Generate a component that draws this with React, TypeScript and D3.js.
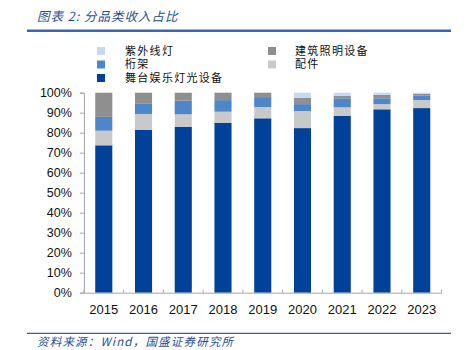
import React, { useEffect, useRef } from 'react';
import * as d3 from 'd3';

// Data (percent of revenue)
const years = ['2015', '2016', '2017', '2018', '2019', '2020', '2021', '2022', '2023'];
const stageLighting = [73.7, 81.5, 83.0, 85.0, 87.2, 82.3, 88.5, 91.7, 92.3]; // 舞台娱乐灯光设备
const accessories = [7.3, 7.8, 6.2, 5.5, 5.6, 8.5, 4.2, 2.6, 4.0];           // 配件
const truss = [6.9, 5.4, 6.8, 5.8, 5.0, 3.5, 4.5, 2.9, 2.2];                 // 桁架
const archLighting = [12.1, 5.3, 4.0, 3.7, 2.2, 3.2, 1.3, 1.8, 1.0];         // 建筑照明设备
const uvLamps = [0, 0, 0, 0, 0, 2.5, 1.5, 1.0, 0.5];                         // 紫外线灯
const yTicks = [0, 10, 20, 30, 40, 50, 60, 70, 80, 90, 100];

const series = [
  { key: 'stage', name: '舞台娱乐灯光设备', values: stageLighting, color: '#00419A' },
  { key: 'acc', name: '配件', values: accessories, color: '#C9C9C9' },
  { key: 'truss', name: '桁架', values: truss, color: '#4E86C8' },
  { key: 'arch', name: '建筑照明设备', values: archLighting, color: '#8F8F8F' },
  { key: 'uv', name: '紫外线灯', values: uvLamps, color: '#C6D9F0' },
];

const legendItems = [
  { key: 'uv', col: 0, row: 0 },
  { key: 'arch', col: 1, row: 0 },
  { key: 'truss', col: 0, row: 1 },
  { key: 'acc', col: 1, row: 1 },
  { key: 'stage', col: 0, row: 2 },
];

const App = () => {
  const ref = useRef<SVGSVGElement>(null);

  useEffect(() => {
    const svg = d3.select(ref.current);
    svg.selectAll('*').remove();

    const W = 468, H = 350;
    const margin = { top: 92.7, right: 26.4, bottom: 57.3, left: 83.9 };
    const width = W - margin.left - margin.right;
    const height = H - margin.top - margin.bottom;
    const blue = '#2E5FA8';
    const cjk = '"Noto Sans CJK SC", sans-serif';

    // Header
    svg.append('text')
      .attr('x', 37).attr('y', 21)
      .attr('fill', '#1F4E9A')
      .attr('font-family', cjk)
      .attr('font-style', 'italic')
      .attr('font-size', 12.5)
      .attr('letter-spacing', 1)
      .text('图表 2:  分品类收入占比');
    svg.append('line')
      .attr('x1', 27).attr('x2', 451).attr('y1', 30.7).attr('y2', 30.7)
      .attr('stroke', '#3A67B0').attr('stroke-width', 2.5);

    // Legend
    legendItems.forEach(it => {
      const s = series.find(d => d.key === it.key)!;
      const sx = it.col === 0 ? 97 : 268;
      const tx = it.col === 0 ? 125 : 295;
      const cy = 51 + it.row * 13.5;
      svg.append('rect')
        .attr('x', sx).attr('y', cy - 4).attr('width', 8).attr('height', 8)
        .attr('fill', s.color);
      svg.append('text')
        .attr('x', tx).attr('y', cy)
        .attr('dy', '0.36em')
        .attr('font-family', cjk)
        .attr('font-size', 11)
        .attr('letter-spacing', 1.3)
        .attr('fill', '#111')
        .text(s.name);
    });

    const g = svg.append('g').attr('transform', `translate(${margin.left},${margin.top})`);

    const x = d3.scaleBand().domain(years).range([0, width]).paddingInner(0.57).paddingOuter(0.285);
    const y = d3.scaleLinear().domain([0, 100]).range([height, 0]);

    // Stacked bars
    const rows = years.map((yr, i) => {
      const r: any = { year: yr };
      series.forEach(s => { r[s.key] = s.values[i]; });
      return r;
    });
    const stack = d3.stack().keys(series.map(s => s.key));
    const layers = stack(rows);

    g.selectAll('g.layer')
      .data(layers)
      .enter()
      .append('g')
      .attr('class', 'layer')
      .attr('fill', (d, i) => series[i].color)
      .selectAll('rect')
      .data(d => d)
      .enter()
      .append('rect')
      .attr('x', (d: any) => x(d.data.year)!)
      .attr('y', d => y(d[1]))
      .attr('width', x.bandwidth())
      .attr('height', d => Math.max(0, y(d[0]) - y(d[1])));

    // Y axis
    const yAxis = g.append('g')
      .call(d3.axisLeft(y).tickValues(yTicks).tickFormat(d => `${d}%`).tickSize(4).tickPadding(8));
    yAxis.select('.domain').attr('stroke', '#A6A6A6');
    yAxis.selectAll('.tick line').attr('stroke', '#A6A6A6');
    yAxis.selectAll('text')
      .attr('font-family', '"Liberation Sans", Arial, sans-serif')
      .attr('font-size', 12.5)
      .attr('fill', '#111');

    // X axis
    const xAxis = g.append('g')
      .attr('transform', `translate(0,${height})`)
      .call(d3.axisBottom(x).tickSize(0).tickPadding(12));
    xAxis.select('.domain').attr('stroke', '#A6A6A6');
    xAxis.selectAll('text')
      .attr('font-family', '"Liberation Sans", Arial, sans-serif')
      .attr('font-size', 13)
      .attr('fill', '#111');
    // small category separators
    const step = x.step();
    g.append('g')
      .selectAll('line')
      .data(d3.range(years.length + 1))
      .enter()
      .append('line')
      .attr('x1', d => d * step).attr('x2', d => d * step)
      .attr('y1', height).attr('y2', height - 3)
      .attr('stroke', '#A6A6A6');

    // Footer
    svg.append('line')
      .attr('x1', 27).attr('x2', 451).attr('y1', 333.3).attr('y2', 333.3)
      .attr('stroke', blue).attr('stroke-width', 1.2);
    svg.append('text')
      .attr('x', 37).attr('y', 346)
      .attr('fill', '#1F4E9A')
      .attr('font-family', cjk)
      .attr('font-style', 'italic')
      .attr('font-size', 11.5)
      .attr('letter-spacing', 1.2)
      .text('资料来源：Wind，国盛证券研究所');
  }, []);

  return (
    <div style={{ position: 'absolute', left: 0, top: 0 }}>
      <svg ref={ref} width={468} height={350} style={{ display: 'block', background: '#fff' }} />
    </div>
  );
};

export default App;
